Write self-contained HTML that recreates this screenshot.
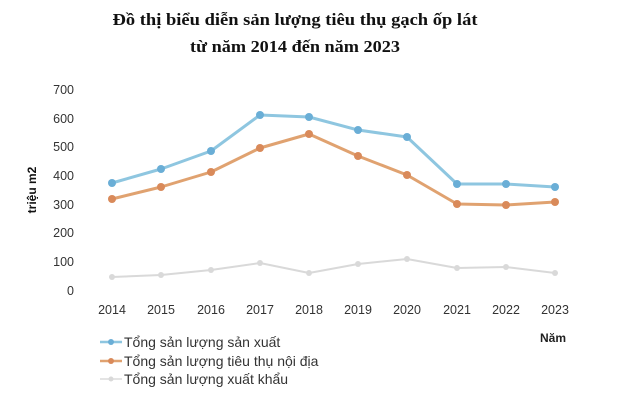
<!DOCTYPE html>
<html><head><meta charset="utf-8"><style>
html,body{margin:0;padding:0;background:#fff;}
svg{display:block;}
</style></head><body>
<svg width="632" height="405" xmlns="http://www.w3.org/2000/svg">
<rect width="632" height="405" fill="#fff"/>
<g font-family="Liberation Serif, serif" font-weight="bold" font-size="17" fill="#111" text-anchor="middle">
<text x="295" y="25" textLength="365" lengthAdjust="spacingAndGlyphs">Đồ thị biểu diễn sản lượng tiêu thụ gạch ốp lát</text>
<text x="295" y="52" textLength="210" lengthAdjust="spacingAndGlyphs">từ năm 2014 đến năm 2023</text>
</g>
<g font-family="Liberation Sans, sans-serif" font-size="12.5" fill="#333" text-anchor="end">
<text x="74" y="94">700</text><text x="74" y="123">600</text><text x="74" y="151">500</text>
<text x="74" y="180">400</text><text x="74" y="209">300</text><text x="74" y="237">200</text>
<text x="74" y="266">100</text><text x="74" y="295">0</text>
</g>
<text transform="translate(36,190) rotate(-90)" font-family="Liberation Sans, sans-serif" font-weight="bold" font-size="12" text-anchor="middle" fill="#111">triệu m2</text>
<g font-family="Liberation Sans, sans-serif" font-size="12.5" fill="#333" text-anchor="middle">
<text x="112" y="314">2014</text><text x="161" y="314">2015</text><text x="211" y="314">2016</text>
<text x="260" y="314">2017</text><text x="309" y="314">2018</text><text x="358" y="314">2019</text>
<text x="407" y="314">2020</text><text x="457" y="314">2021</text><text x="506" y="314">2022</text>
<text x="555" y="314">2023</text>
</g>
<text x="553" y="342" font-family="Liberation Sans, sans-serif" font-weight="bold" font-size="12" text-anchor="middle" fill="#222">Năm</text>
<g fill="none" stroke-width="3" stroke-linejoin="round">
<polyline stroke="#d9d9d9" stroke-width="2" points="112,277 161,275 211,270 260,263 309,273 358,264 407,259 457,268 506,267 555,273"/>
<polyline stroke="#e0a270" points="112,199 161,187 211,172 260,148 309,134 358,156 407,175 457,204 506,205 555,202"/>
<polyline stroke="#8ec6e0" points="112,183 161,169 211,151 260,115 309,117 358,130 407,137 457,184 506,184 555,187"/>
</g>
<g fill="#d9d9d9">
<circle cx="112" cy="277" r="3"/><circle cx="161" cy="275" r="3"/><circle cx="211" cy="270" r="3"/><circle cx="260" cy="263" r="3"/><circle cx="309" cy="273" r="3"/><circle cx="358" cy="264" r="3"/><circle cx="407" cy="259" r="3"/><circle cx="457" cy="268" r="3"/><circle cx="506" cy="267" r="3"/><circle cx="555" cy="273" r="3"/>
</g>
<g fill="#d98a5a">
<circle cx="112" cy="199" r="4"/><circle cx="161" cy="187" r="4"/><circle cx="211" cy="172" r="4"/><circle cx="260" cy="148" r="4"/><circle cx="309" cy="134" r="4"/><circle cx="358" cy="156" r="4"/><circle cx="407" cy="175" r="4"/><circle cx="457" cy="204" r="4"/><circle cx="506" cy="205" r="4"/><circle cx="555" cy="202" r="4"/>
</g>
<g fill="#6aaed6">
<circle cx="112" cy="183" r="4"/><circle cx="161" cy="169" r="4"/><circle cx="211" cy="151" r="4"/><circle cx="260" cy="115" r="4"/><circle cx="309" cy="117" r="4"/><circle cx="358" cy="130" r="4"/><circle cx="407" cy="137" r="4"/><circle cx="457" cy="184" r="4"/><circle cx="506" cy="184" r="4"/><circle cx="555" cy="187" r="4"/>
</g>
<g stroke-width="2.5">
<line x1="100" y1="342" x2="122" y2="342" stroke="#8ec6e0"/><circle cx="111" cy="342" r="3" fill="#6aaed6"/>
<line x1="100" y1="361" x2="122" y2="361" stroke="#e0a270"/><circle cx="111" cy="361" r="3" fill="#d98a5a"/>
<line x1="100" y1="379" x2="122" y2="379" stroke="#dcdcdc" stroke-width="1.5"/><circle cx="111" cy="379" r="2.5" fill="#d9d9d9"/>
</g>
<g font-family="Liberation Sans, sans-serif" font-size="14" fill="#333">
<text x="124" y="347">Tổng sản lượng sản xuất</text>
<text x="124" y="366">Tổng sản lượng tiêu thụ nội địa</text>
<text x="124" y="384">Tổng sản lượng xuất khẩu</text>
</g>
</svg>
</body></html>
